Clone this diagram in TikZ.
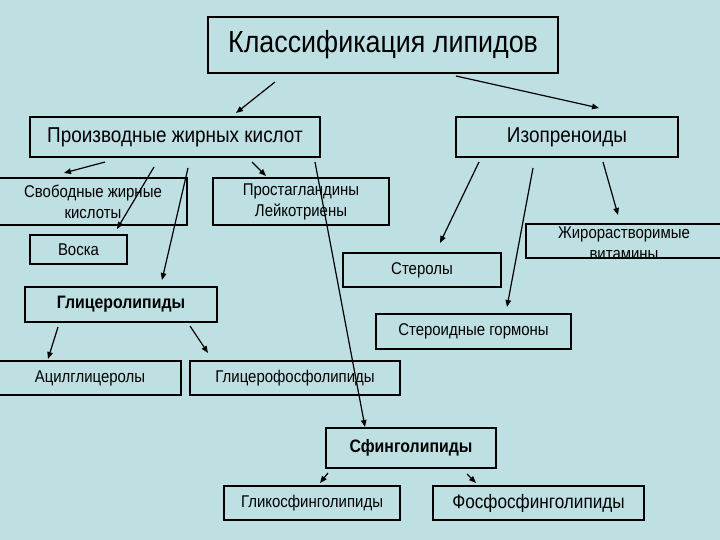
\documentclass[tikz,border=0pt]{standalone}
\usepackage{fontspec}
\setmainfont{Liberation Sans}[FakeStretch=0.88]
\usetikzlibrary{arrows.meta}
\definecolor{slide}{RGB}{190,224,227}

\begin{document}
\begin{tikzpicture}[
      x = 1pt, y = -1pt,
      font = \fontsize{17}{19}\selectfont,
      box/.style={
        draw = black,
        line width = 1.8pt,
        fill = slide,
        align = center,
        inner sep = 0pt,
      },
      pointer/.style={
        -{Triangle[length=7pt, width=5.5pt]},
        line width = 1.2pt,
        black,
      },
    ]
    \fill[slide] (0,0) rectangle (720,540);
    \useasboundingbox (0,0) rectangle (720,540);
    % boxes
    \node[box, minimum width = 350pt, minimum height = 56pt,
      font = \fontsize{30.5}{33}\selectfont] (lip) at (383,45)
      {Классификация липидов};
    \node[box, minimum width = 290pt, minimum height = 40pt,
      font = \fontsize{21.5}{24}\selectfont] (fa) at (175,137)
      {Производные жирных кислот};
    \node[box, minimum width = 222pt, minimum height = 40pt,
      font = \fontsize{21.5}{24}\selectfont] (iso) at (567,137)
      {Изопреноиды};
    \node[box, minimum width = 188pt, minimum height = 47pt,
      font = \fontsize{17}{21}\selectfont] (ffa) at (93,201.5)
      {Свободные жирные\\кислоты};
    \node[box, minimum width = 176pt, minimum height = 47pt,
      font = \fontsize{17}{21}\selectfont] (pg) at (301,201.5)
      {Простагландины\\Лейкотриены};
    \node[box, minimum width = 97pt, minimum height = 29pt] (wax) at (78.5,249.5)
      {Воска};
    \node[box, minimum width = 196pt, minimum height = 34pt] (vit) at (624,241) {};
    \node[align = center, font = \fontsize{17}{21}\selectfont] (vit-text)
      at (624,243) {Жирорастворимые\\витамины};
    \node[box, minimum width = 158pt, minimum height = 34pt] (st) at (422,270)
      {Стеролы};
    \node[box, minimum width = 192pt, minimum height = 35pt,
      font = \fontsize{18}{20}\selectfont\bfseries] (gl) at (121,304.5)
      {Глицеролипиды};
    \node[box, minimum width = 195pt, minimum height = 35pt] (sh) at (473.5,331.5)
      {Стероидные гормоны};
    \node[box, minimum width = 182pt, minimum height = 34pt] (acyl) at (90,378)
      {Ацилглицеролы};
    \node[box, minimum width = 210pt, minimum height = 34pt] (gpl) at (295,378)
      {Глицерофосфолипиды};
    \node[box, minimum width = 170pt, minimum height = 40pt,
      font = \fontsize{18}{20}\selectfont\bfseries] (sph) at (411,448)
      {Сфинголипиды};
    \node[box, minimum width = 176pt, minimum height = 34pt] (gsl) at (312,503)
      {Гликосфинголипиды};
    \node[box, minimum width = 211pt, minimum height = 34pt,
      font = \fontsize{19.5}{22}\selectfont] (psl) at (538.5,503)
      {Фосфосфинголипиды};
    % arrow ends
    \coordinate (lip-1) at (275,82);   \coordinate (fa-in)   at (236,113);
    \coordinate (lip-2) at (456,76);   \coordinate (iso-in)  at (599,108);
    \coordinate (fa-1)  at (105,162);  \coordinate (ffa-in)  at (64,173);
    \coordinate (fa-2)  at (154,167);  \coordinate (wax-in)  at (117,229);
    \coordinate (fa-3)  at (188,168);  \coordinate (gl-in)   at (162,280);
    \coordinate (fa-4)  at (252,162);  \coordinate (pg-in)   at (266,176);
    \coordinate (fa-5)  at (315,162);  \coordinate (sph-in)  at (365,427);
    \coordinate (iso-1) at (479,162);  \coordinate (st-in)   at (440,243);
    \coordinate (iso-2) at (533,168);  \coordinate (sh-in)   at (507,307);
    \coordinate (iso-3) at (603,162);  \coordinate (vit-in)  at (618,215);
    \coordinate (gl-1)  at (58,327);   \coordinate (acyl-in) at (48,359);
    \coordinate (gl-2)  at (190,326);  \coordinate (gpl-in)  at (208,353);
    \coordinate (sph-1) at (328,473);  \coordinate (gsl-in)  at (320,483);
    \coordinate (sph-2) at (467,474);  \coordinate (psl-in)  at (476,483);
    % arrows
    \draw[pointer] (lip-1) -- (fa-in);
    \draw[pointer] (lip-2) -- (iso-in);
    \draw[pointer] (fa-1) -- (ffa-in);
    \draw[pointer] (fa-2) -- (wax-in);
    \draw[pointer] (fa-3) -- (gl-in);
    \draw[pointer] (fa-4) -- (pg-in);
    \draw[pointer] (fa-5) -- (sph-in);
    \draw[pointer] (iso-1) -- (st-in);
    \draw[pointer] (iso-2) -- (sh-in);
    \draw[pointer] (iso-3) -- (vit-in);
    \draw[pointer] (gl-1) -- (acyl-in);
    \draw[pointer] (gl-2) -- (gpl-in);
    \draw[pointer] (sph-1) -- (gsl-in);
    \draw[pointer] (sph-2) -- (psl-in);
  \end{tikzpicture}
\end{document}
